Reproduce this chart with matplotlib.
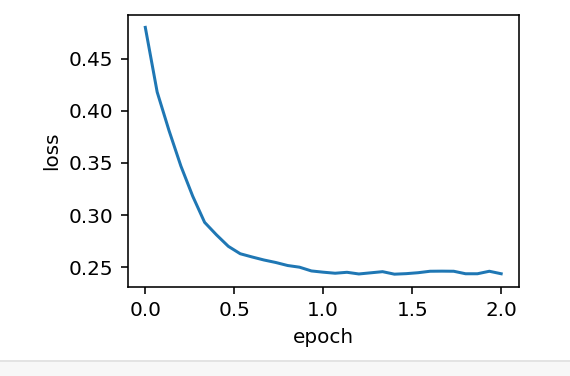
import matplotlib
matplotlib.use("Agg")
import matplotlib.pyplot as plt
from matplotlib.patches import Rectangle
from matplotlib.lines import Line2D

# loss recorded every 1/15 epoch
epochs = [i / 15 for i in range(31)]
loss = [0.480, 0.418, 0.381, 0.347, 0.318, 0.293, 0.281, 0.270, 0.2629, 0.2598,
        0.2569, 0.2545, 0.2516, 0.2500, 0.2464, 0.2452, 0.2442, 0.2451, 0.2435, 0.2446,
        0.2457, 0.2433, 0.2438, 0.2447, 0.2461, 0.2462, 0.2461, 0.2437, 0.2437, 0.2461,
        0.2437]

dpi = 144
fig = plt.figure(figsize=(570 / dpi, 376 / dpi), dpi=dpi)
ax = fig.add_axes([0.2237, 0.238, 0.6868, 0.722])
ax.plot(epochs, loss, color="#1f77b4", linewidth=1.5)
ax.set_xlabel("epoch")
ax.set_ylabel("loss")
ax.set_xticks([0.0, 0.5, 1.0, 1.5, 2.0])
ax.set_yticks([0.25, 0.30, 0.35, 0.40, 0.45])

# light gray strip at the bottom of the page
fig.patches.append(Rectangle((0, 0), 1, 15 / 376, transform=fig.transFigure,
                             facecolor="#f7f7f7", edgecolor="none", zorder=0))
fig.lines.append(Line2D([0, 1], [15.5 / 376, 15.5 / 376], transform=fig.transFigure,
                        color="#e3e3e3", linewidth=1.0))

fig.savefig("out.png", dpi=dpi)
